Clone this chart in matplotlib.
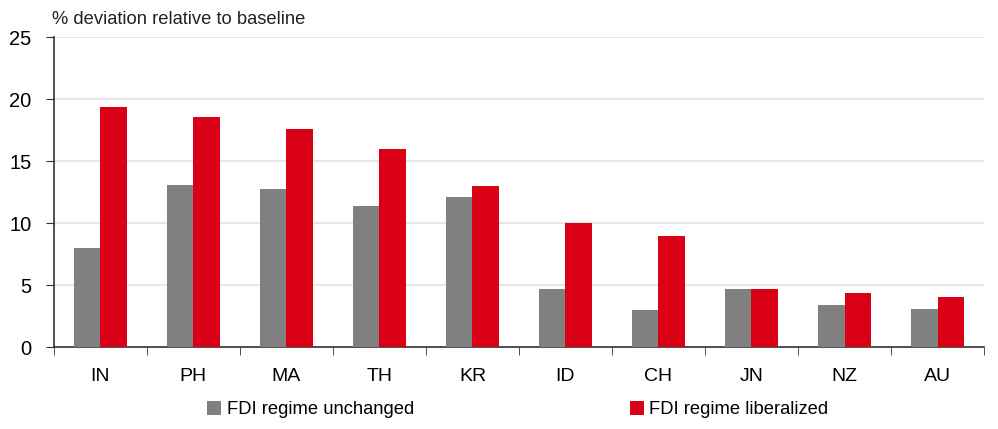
import numpy as np
import matplotlib.pyplot as plt
from matplotlib.ticker import FixedLocator

plt.rcParams['font.family'] = ['Liberation Sans', 'DejaVu Sans']

countries = ['IN', 'PH', 'MA', 'TH', 'KR', 'ID', 'CH', 'JN', 'NZ', 'AU']
unchanged = [8.0, 13.1, 12.8, 11.4, 12.1, 4.7, 3.0, 4.7, 3.4, 3.1]
liberalized = [19.4, 18.6, 17.6, 16.0, 13.0, 10.0, 9.0, 4.7, 4.4, 4.1]

fig = plt.figure(figsize=(9.98, 4.29), dpi=100)
ax = fig.add_axes([0.054, 0.19, 0.932, 0.723])

x = np.arange(len(countries))
w = 0.285
ax.bar(x - w/2, unchanged, w, color='#808080', label='FDI regime unchanged', zorder=3)
ax.bar(x + w/2, liberalized, w, color='#da0016', label='FDI regime liberalized', zorder=3)

ax.set_xlim(-0.5, len(countries) - 0.5)
ax.set_ylim(0, 25)
ax.set_yticks(range(0, 26, 5))
ax.yaxis.grid(True, color='#e3e3e3', lw=1.2, zorder=0)
ax.set_axisbelow(True)

ax.set_xticks(x)
ax.set_xticklabels(countries, fontsize=14)
ax.tick_params(axis='x', length=0, pad=15)
ax.xaxis.set_minor_locator(FixedLocator(np.arange(-0.5, len(countries), 1)))
ax.tick_params(axis='x', which='minor', length=6, direction='out', color='#333333')
ax.tick_params(axis='y', labelsize=14.5, length=6, color='#333333', pad=10)

for s in ['top', 'right']:
    ax.spines[s].set_visible(False)
for s in ['left', 'bottom']:
    ax.spines[s].set_color('#333333')
    ax.spines[s].set_linewidth(1.2)

fig.text(0.052, 0.955, '% deviation relative to baseline', fontsize=13.2,
         color='#222222', va='center')

h, l = ax.get_legend_handles_labels()
fig.legend(h, l, loc='center', bbox_to_anchor=(0.519, 0.045), ncol=2, frameon=False,
           fontsize=13.2, handlelength=0.75, handleheight=0.75, handletextpad=0.3,
           columnspacing=11.8)

fig.savefig('out.png', dpi=100)
